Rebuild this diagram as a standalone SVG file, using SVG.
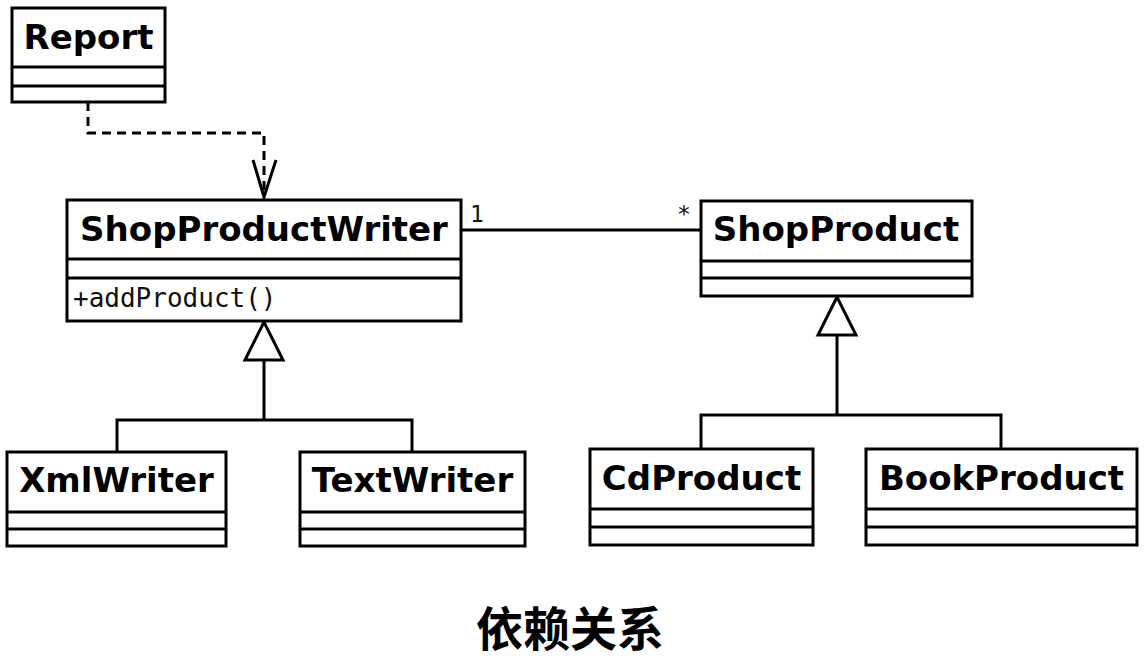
<svg xmlns="http://www.w3.org/2000/svg" width="1148" height="670" viewBox="0 0 1148 670">
<style>
.box{fill:#fff;stroke:#000;stroke-width:3}
.sep{stroke:#000;stroke-width:3}
.title{font-family:"DejaVu Sans",sans-serif;font-weight:bold;font-size:34px;fill:#000;text-anchor:middle}
.mono{font-family:"DejaVu Sans Mono",monospace;font-size:26px;fill:#111}
.mult{font-family:"DejaVu Sans Mono",monospace;font-size:23px;fill:#111}
.line{fill:none;stroke:#000;stroke-width:3}
.dash{fill:none;stroke:#000;stroke-width:3;stroke-dasharray:9,6}
.tri{fill:#fff;stroke:#000;stroke-width:3;stroke-linejoin:miter}
.cap{font-family:"Noto Sans CJK SC",sans-serif;font-weight:bold;font-size:47px;fill:#000;text-anchor:middle}
</style>
<rect width="1148" height="670" fill="#fff"/>
<g id="connectors">
  <path class="dash" d="M88,102 V133 H264 V196"/>
  <path class="line" d="M253,160 L264,197 L276,160"/>
  <line class="line" x1="461" y1="230" x2="701" y2="230"/>
  <text class="mult" x="470" y="222">1</text>
  <text class="mult" x="677" y="222">*</text>
  <path class="line" d="M264,360 V420 M117,452 V420 H412 V452"/>
  <polygon class="tri" points="264,322 245,360 283,360"/>
  <path class="line" d="M837,335 V415 M701,449 V415 H1001 V449"/>
  <polygon class="tri" points="837,297 818,335 856,335"/>
</g>
<g id="Report">
  <rect class="box" x="12" y="8" width="153" height="94"/>
  <line class="sep" x1="12" y1="67" x2="165" y2="67"/>
  <line class="sep" x1="12" y1="86" x2="165" y2="86"/>
  <text class="title" x="88.5" y="49">Report</text>
</g>
<g id="ShopProductWriter">
  <rect class="box" x="67" y="200" width="394" height="121"/>
  <line class="sep" x1="67" y1="259" x2="461" y2="259"/>
  <line class="sep" x1="67" y1="278" x2="461" y2="278"/>
  <text class="title" x="264" y="241">ShopProductWriter</text>
  <text class="mono" x="73" y="307">+addProduct()</text>
</g>
<g id="ShopProduct">
  <rect class="box" x="701" y="201" width="271" height="95"/>
  <line class="sep" x1="701" y1="261" x2="972" y2="261"/>
  <line class="sep" x1="701" y1="278" x2="972" y2="278"/>
  <text class="title" x="836" y="241">ShopProduct</text>
</g>
<g id="XmlWriter">
  <rect class="box" x="7" y="452" width="219" height="94"/>
  <line class="sep" x1="7" y1="512" x2="226" y2="512"/>
  <line class="sep" x1="7" y1="529" x2="226" y2="529"/>
  <text class="title" x="116.5" y="492">XmlWriter</text>
</g>
<g id="TextWriter">
  <rect class="box" x="300" y="452" width="225" height="94"/>
  <line class="sep" x1="300" y1="512" x2="525" y2="512"/>
  <line class="sep" x1="300" y1="529" x2="525" y2="529"/>
  <text class="title" x="412.5" y="492">TextWriter</text>
</g>
<g id="CdProduct">
  <rect class="box" x="590" y="449" width="223" height="96"/>
  <line class="sep" x1="590" y1="509" x2="813" y2="509"/>
  <line class="sep" x1="590" y1="527" x2="813" y2="527"/>
  <text class="title" x="701.5" y="490">CdProduct</text>
</g>
<g id="BookProduct">
  <rect class="box" x="866" y="449" width="271" height="96"/>
  <line class="sep" x1="866" y1="509" x2="1137" y2="509"/>
  <line class="sep" x1="866" y1="527" x2="1137" y2="527"/>
  <text class="title" x="1001.5" y="490">BookProduct</text>
</g>
<g id="caption">
  <text class="cap" x="570" y="646">依赖关系</text>
</g>
</svg>
